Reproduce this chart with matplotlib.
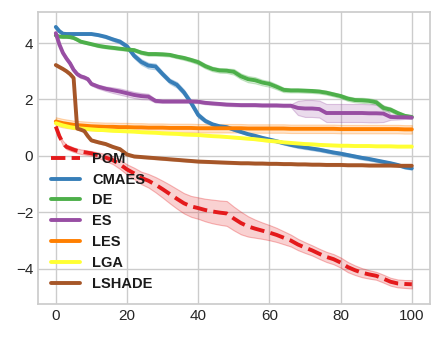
import matplotlib
matplotlib.use("Agg")
import matplotlib.pyplot as plt
from matplotlib.colors import to_rgba
import numpy as np

steps = [0, 1, 2, 3, 4, 5, 6, 7, 8, 9, 10,
         12, 14, 16, 18, 20, 22, 24, 26, 28, 30, 32, 34, 36, 38, 40, 42, 44, 46, 48,
         50, 52, 54, 56, 58, 60, 62, 64, 66, 68, 70, 72, 74, 76, 78, 80, 82, 84, 86, 88,
         90, 92, 94, 96, 98, 100]

labels = ["POM", "CMAES", "DE", "ES", "LES", "LGA", "LSHADE"]
colors = ["#e41a1c", "#377eb8", "#4daf4a", "#984ea3", "#ff7f00", "#ffff33", "#a65628"]

pom = [1.04, 0.70, 0.45, 0.32, 0.27, 0.22, 0.18, 0.15, 0.13, 0.11, 0.09,
       0.02, -0.06, -0.15, -0.30, -0.48, -0.62, -0.78, -0.88, -1.02, -1.18, -1.35, -1.52, -1.68, -1.79, -1.85, -1.92, -1.97, -2.01, -2.04,
       -2.22, -2.38, -2.50, -2.58, -2.65, -2.72, -2.80, -2.90, -3.00, -3.14, -3.25, -3.35, -3.47, -3.58, -3.66, -3.78, -3.94, -4.05, -4.14, -4.20,
       -4.25, -4.35, -4.46, -4.52, -4.54, -4.55]
pom_sd = [0.02, 0.06, 0.08, 0.08, 0.08, 0.08, 0.08, 0.08, 0.08, 0.08, 0.08,
          0.10, 0.12, 0.14, 0.16, 0.18, 0.20, 0.22, 0.24, 0.27, 0.30, 0.33, 0.35, 0.36, 0.37, 0.38, 0.40, 0.42, 0.43, 0.44,
          0.42, 0.40, 0.36, 0.32, 0.29, 0.27, 0.25, 0.23, 0.21, 0.20, 0.19, 0.18, 0.18, 0.18, 0.18, 0.18, 0.18, 0.17, 0.16, 0.15,
          0.14, 0.14, 0.14, 0.14, 0.14, 0.15]

cmaes = [4.57, 4.42, 4.33, 4.32, 4.32, 4.32, 4.32, 4.32, 4.32, 4.32, 4.32,
         4.28, 4.22, 4.13, 4.05, 3.88, 3.55, 3.33, 3.20, 3.17, 2.90, 2.65, 2.52, 2.25, 1.88, 1.45, 1.24, 1.12, 1.05, 1.02,
         0.93, 0.85, 0.77, 0.71, 0.64, 0.58, 0.52, 0.45, 0.39, 0.34, 0.30, 0.26, 0.22, 0.17, 0.12, 0.08, 0.03, -0.02, -0.07, -0.11,
         -0.16, -0.21, -0.26, -0.32, -0.40, -0.44]
cmaes_sd = [0.03, 0.03, 0.03, 0.03, 0.03, 0.03, 0.03, 0.03, 0.03, 0.03, 0.03,
            0.04, 0.05, 0.06, 0.07, 0.08, 0.09, 0.10, 0.10, 0.10, 0.09, 0.09, 0.10, 0.10, 0.10, 0.09, 0.07, 0.05, 0.04, 0.04,
            0.04, 0.04, 0.04, 0.05, 0.05, 0.05, 0.05, 0.05, 0.05, 0.06, 0.06, 0.06, 0.06, 0.06, 0.06, 0.06, 0.06, 0.06, 0.06, 0.06,
            0.05, 0.05, 0.05, 0.05, 0.05, 0.05]

de = [4.27, 4.23, 4.22, 4.22, 4.21, 4.18, 4.12, 4.05, 4.02, 3.99, 3.96,
      3.90, 3.86, 3.83, 3.80, 3.77, 3.75, 3.66, 3.61, 3.61, 3.60, 3.58, 3.52, 3.47, 3.40, 3.32, 3.18, 3.08, 3.03, 3.02,
      2.98, 2.82, 2.72, 2.68, 2.60, 2.55, 2.45, 2.34, 2.32, 2.32, 2.31, 2.30, 2.28, 2.24, 2.18, 2.12, 2.03, 1.98, 1.97, 1.95,
      1.90, 1.70, 1.64, 1.52, 1.42, 1.38]
de_sd = [0.03, 0.04, 0.04, 0.04, 0.04, 0.04, 0.04, 0.04, 0.04, 0.04, 0.04,
         0.05, 0.05, 0.05, 0.05, 0.05, 0.05, 0.06, 0.06, 0.06, 0.06, 0.06, 0.06, 0.07, 0.07, 0.08, 0.08, 0.08, 0.08, 0.08,
         0.10, 0.10, 0.11, 0.11, 0.10, 0.10, 0.09, 0.08, 0.07, 0.07, 0.07, 0.07, 0.07, 0.07, 0.07, 0.07, 0.08, 0.08, 0.09, 0.09,
         0.09, 0.09, 0.08, 0.07, 0.06, 0.05]

es = [4.35, 3.95, 3.65, 3.45, 3.28, 3.05, 2.90, 2.82, 2.78, 2.72, 2.55,
      2.45, 2.38, 2.33, 2.28, 2.22, 2.16, 2.12, 2.10, 1.95, 1.93, 1.93, 1.93, 1.93, 1.93, 1.92, 1.88, 1.86, 1.84, 1.82,
      1.81, 1.80, 1.80, 1.80, 1.79, 1.79, 1.79, 1.78, 1.78, 1.70, 1.68, 1.68, 1.66, 1.52, 1.52, 1.52, 1.52, 1.52, 1.52, 1.51,
      1.51, 1.50, 1.38, 1.37, 1.37, 1.36]
es_sd = [0.03, 0.05, 0.06, 0.06, 0.06, 0.06, 0.06, 0.06, 0.06, 0.06, 0.06,
         0.07, 0.08, 0.10, 0.11, 0.11, 0.11, 0.11, 0.10, 0.06, 0.05, 0.05, 0.05, 0.05, 0.05, 0.05, 0.05, 0.05, 0.05, 0.05,
         0.05, 0.05, 0.05, 0.05, 0.05, 0.05, 0.05, 0.05, 0.05, 0.25, 0.30, 0.30, 0.30, 0.32, 0.32, 0.32, 0.32, 0.32, 0.32, 0.32,
         0.32, 0.30, 0.10, 0.08, 0.06, 0.05]

les = [1.22, 1.19, 1.16, 1.14, 1.12, 1.10, 1.09, 1.08, 1.07, 1.06, 1.05,
       1.04, 1.03, 1.03, 1.02, 1.02, 1.01, 1.01, 1.00, 1.00, 1.00, 0.99, 0.99, 0.99, 0.99, 0.98, 0.98, 0.98, 0.98, 0.98,
       0.98, 0.98, 0.97, 0.97, 0.97, 0.97, 0.97, 0.97, 0.96, 0.96, 0.96, 0.96, 0.96, 0.96, 0.96, 0.95, 0.95, 0.95, 0.95, 0.95,
       0.95, 0.95, 0.95, 0.95, 0.94, 0.94]
les_sd = [0.15] * 56

lga = [1.16, 1.12, 1.08, 1.05, 1.02, 1.00, 0.98, 0.97, 0.96, 0.95, 0.94,
       0.92, 0.91, 0.89, 0.88, 0.87, 0.86, 0.84, 0.83, 0.82, 0.80, 0.79, 0.78, 0.76, 0.75, 0.74, 0.72, 0.70, 0.69, 0.67,
       0.65, 0.63, 0.61, 0.59, 0.56, 0.53, 0.51, 0.48, 0.46, 0.44, 0.42, 0.41, 0.39, 0.38, 0.37, 0.36, 0.36, 0.35, 0.35, 0.35,
       0.34, 0.34, 0.34, 0.33, 0.33, 0.33]
lga_sd = [0.03] * 56

lshade = [3.22, 3.15, 3.08, 3.00, 2.90, 2.76, 0.97, 0.93, 0.88, 0.70, 0.55,
          0.48, 0.42, 0.32, 0.24, 0.05, -0.02, -0.04, -0.06, -0.08, -0.10, -0.12, -0.14, -0.16, -0.18, -0.20, -0.21, -0.22, -0.23, -0.24,
          -0.25, -0.26, -0.26, -0.27, -0.27, -0.28, -0.28, -0.29, -0.29, -0.30, -0.30, -0.31, -0.31, -0.32, -0.32, -0.32, -0.33, -0.33, -0.33, -0.34,
          -0.34, -0.34, -0.34, -0.35, -0.35, -0.35]
lshade_sd = [0.04] * 56

means = [pom, cmaes, de, es, les, lga, lshade]
sds = [pom_sd, cmaes_sd, de_sd, es_sd, les_sd, lga_sd, lshade_sd]

plt.style.use("seaborn-v0_8-whitegrid")
plt.rcParams["font.family"] = ["Liberation Sans", "DejaVu Sans"]

fig = plt.figure(figsize=(4.42, 3.39), dpi=100)
ax = fig.add_axes([0.086, 0.1032, 0.886, 0.8614])

x = np.array(steps, dtype=float)
for lab, col, m, s in zip(labels, colors, means, sds):
    m = np.array(m)
    s = np.array(s)
    ax.fill_between(x, m - s, m + s, facecolor=to_rgba(col, 0.2),
                    edgecolor=to_rgba(col, 0.3), linewidth=0.8)
    ls = "--" if lab == "POM" else "-"
    ax.plot(x, m, color=col, lw=2.8, ls=ls, label=lab)

ax.set_xlim(-5, 105)
ax.set_ylim(-5.25, 5.1)
ax.set_xticks([0, 20, 40, 60, 80, 100])
ax.set_yticks([-4, -2, 0, 2, 4])
ax.tick_params(labelsize=11, colors="#262626")
for sp in ax.spines.values():
    sp.set_visible(True)
    sp.set_color("#cccccc")
    sp.set_linewidth(1.25)
ax.grid(True, color="#cccccc", lw=1.0)

leg = ax.legend(loc="lower left", frameon=False, prop={"weight": "bold", "size": 10.5},
                labelspacing=0.47, handlelength=2.0, handletextpad=0.8)
for t in leg.get_texts():
    t.set_color("#1a1a1a")

fig.savefig("out.png", dpi=100)
